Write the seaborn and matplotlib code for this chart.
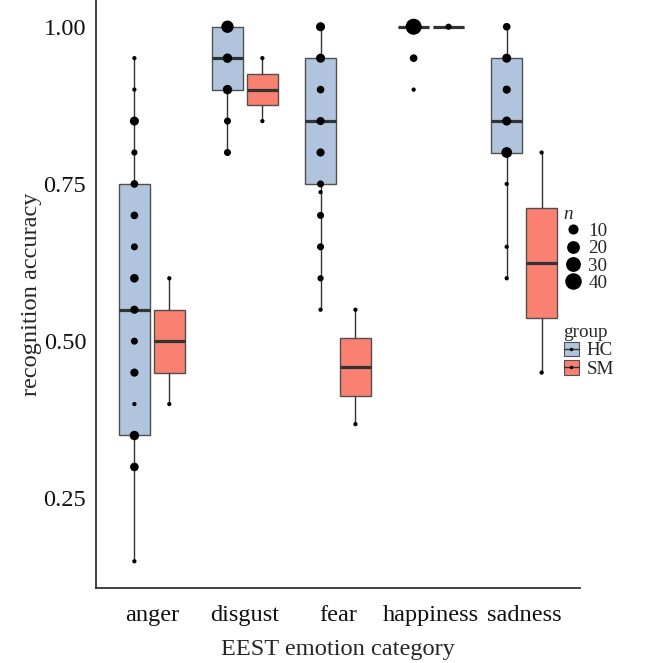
import numpy as np
import pandas as pd
import seaborn as sns
import matplotlib.pyplot as plt
from matplotlib.lines import Line2D
from matplotlib.patches import Patch
from matplotlib.legend_handler import HandlerTuple

# Categories and groups
categories = ['anger', 'disgust', 'fear', 'happiness', 'sadness']
groups = ['HC', 'SM']

# HC: accuracy levels and number of participants at each level
anger_hc_acc = [0.15, 0.30, 0.35, 0.40, 0.45, 0.50, 0.55, 0.60, 0.65, 0.70, 0.75, 0.80, 0.85, 0.90, 0.95]
anger_hc_n = [1, 6, 8, 1, 5, 3, 5, 6, 3, 4, 4, 2, 7, 1, 1]
disgust_hc_acc = [0.80, 0.85, 0.90, 0.95, 1.00]
disgust_hc_n = [3, 3, 8, 8, 18]
fear_hc_acc = [0.55, 0.60, 0.65, 0.70, 0.737, 0.75, 0.80, 0.85, 0.90, 0.95, 1.00]
fear_hc_n = [1, 2, 3, 3, 1, 3, 5, 5, 4, 7, 7]
happiness_hc_acc = [0.90, 0.95, 1.00]
happiness_hc_n = [1, 4, 37]
sadness_hc_acc = [0.60, 0.65, 0.75, 0.80, 0.85, 0.90, 0.95, 1.00]
sadness_hc_n = [1, 1, 1, 12, 7, 5, 7, 4]

# SM: individual scores
anger_sm = [0.40, 0.60]
disgust_sm = [0.85, 0.95]
fear_sm = [0.368, 0.55]
happiness_sm = [1.00, 1.00]
sadness_sm = [0.45, 0.80]

hc_acc = [anger_hc_acc, disgust_hc_acc, fear_hc_acc, happiness_hc_acc, sadness_hc_acc]
hc_n = [anger_hc_n, disgust_hc_n, fear_hc_n, happiness_hc_n, sadness_hc_n]
sm_scores = [anger_sm, disgust_sm, fear_sm, happiness_sm, sadness_sm]

# Build long data frame (one row per participant score)
rows = []
for cat, acc, n in zip(categories, hc_acc, hc_n):
    for v in np.repeat(acc, n):
        rows.append((cat, 'HC', v))
for cat, scores in zip(categories, sm_scores):
    for v in scores:
        rows.append((cat, 'SM', v))
df = pd.DataFrame(rows, columns=['emotion', 'group', 'accuracy'])

# Counts for the dots
dots = df.groupby(['emotion', 'group', 'accuracy']).size().reset_index(name='n')
offset = {'HC': -0.1875, 'SM': 0.1875}
dots['xpos'] = dots['emotion'].map(categories.index) + dots['group'].map(offset)


def dot_px(n):
    # ggplot-like area scale: diameter grows with sqrt of count
    return 1.8 + 2.45 * (1 + 5 * np.sqrt((n - 1) / 39))


size_map = {n: (dot_px(n) * 0.72) ** 2 for n in dots['n'].unique()}

sns.set_style('white')
serif = ['Liberation Serif', 'DejaVu Serif']
plt.rcParams['font.family'] = serif

fig = plt.figure(figsize=(6.49, 6.63), dpi=100)
ax = fig.add_axes([96 / 649, 75 / 663, 484 / 649, 588 / 663])

palette = {'HC': '#B0C4DE', 'SM': '#FA8072'}
sns.boxplot(data=df, x='emotion', y='accuracy', hue='group', order=categories,
            hue_order=groups, palette=palette, saturation=1, width=0.75, gap=0.1,
            linecolor='#505050', linewidth=1.0, showfliers=False, legend=False,
            medianprops=dict(linewidth=2.3, color='#333333'),
            whiskerprops=dict(color='#333333'),
            capprops=dict(visible=False), ax=ax)

sns.scatterplot(data=dots, x='xpos', y='accuracy', size='n', sizes=size_map,
                color='black', linewidth=0, legend=False, ax=ax, zorder=3)

ax.set_xlim(-0.6, 4.6)
ax.set_ylim(0.1075, 1.0425)
ax.set_xticks(range(len(categories)))
ax.set_xticklabels(categories)
ax.set_yticks([0.25, 0.50, 0.75, 1.00])
ax.set_yticklabels(['0.25', '0.50', '0.75', '1.00'])
ax.tick_params(axis='both', labelsize=17.6, length=4, width=1, color='#444444',
               labelcolor='#111111', pad=3)
ax.tick_params(axis='x', pad=8.5)
ax.set_xlabel('EEST emotion category', fontsize=17.6, labelpad=9)
ax.set_ylabel('recognition accuracy', fontsize=17.6, labelpad=1)
for side in ['top', 'right']:
    ax.spines[side].set_visible(False)
for side in ['left', 'bottom']:
    ax.spines[side].set_color('#333333')
    ax.spines[side].set_linewidth(1.3)

# Legend for dot size
leg_font = {'family': serif, 'size': 13.7}
size_handles = [Line2D([], [], marker='o', linestyle='none', color='black',
                       markersize=dot_px(n) * 0.72, markeredgewidth=0)
                for n in [10, 20, 30, 40]]
leg1 = fig.legend(size_handles, ['10', '20', '30', '40'], title='n',
                  loc='upper left', bbox_to_anchor=(556 / 649, 1 - 198 / 663),
                  frameon=False, prop=leg_font, handlelength=1.0,
                  handletextpad=0.3, labelspacing=0.0, borderaxespad=0,
                  title_fontproperties={'family': serif, 'size': 13.7, 'style': 'italic'})
leg1._legend_box.align = 'left'

# Legend for group
group_handles = []
for g in groups:
    box = Patch(facecolor=palette[g], edgecolor='#505050', linewidth=0.8)
    mid = Line2D([], [], color='#333333', linewidth=1.0, marker='o',
                 markersize=2.5, markerfacecolor='black', markeredgewidth=0)
    group_handles.append((box, mid))
leg2 = fig.legend(group_handles, groups, title='group', loc='upper left',
                  bbox_to_anchor=(556 / 649, 1 - 316 / 663), frameon=False,
                  prop=leg_font, handlelength=0.8, handleheight=0.8,
                  handletextpad=0.4, labelspacing=0.05, borderaxespad=0,
                  handler_map={tuple: HandlerTuple(ndivide=1)},
                  title_fontproperties={'family': serif, 'size': 13.7})
leg2._legend_box.align = 'left'

fig.savefig('out.png', dpi=100)
